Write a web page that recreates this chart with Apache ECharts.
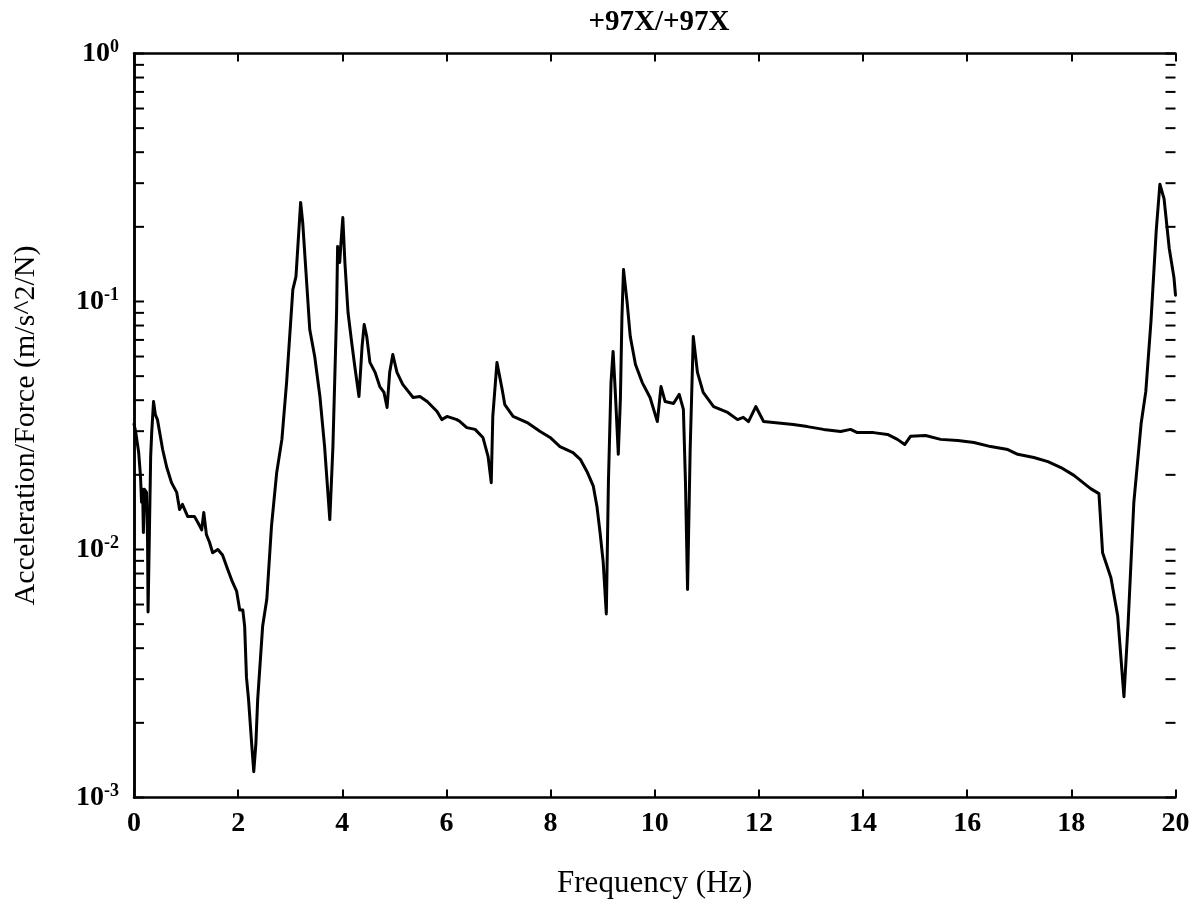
<!DOCTYPE html>
<html>
<head>
<meta charset="utf-8">
<script src="https://cdn.jsdelivr.net/npm/echarts@6/dist/echarts.min.js"></script>
<style>
  html, body { margin: 0; padding: 0; background: #fff; }
  #chart { width: 1198px; height: 904px; }
</style>
</head>
<body>
<div id="chart"></div>
<script>
// frequency (Hz)
const freq = [
  0, 0.03, 0.09, 0.125, 0.145, 0.165, 0.18, 0.2, 0.24, 0.26,
  0.27, 0.3, 0.32, 0.34, 0.375, 0.41, 0.45, 0.55, 0.63, 0.72,
  0.82, 0.875, 0.93, 1.03, 1.16, 1.24, 1.3, 1.34, 1.39, 1.45,
  1.51, 1.61, 1.7, 1.8, 1.89, 1.97, 2.03, 2.09, 2.125, 2.16,
  2.2, 2.26, 2.3, 2.34, 2.375, 2.47, 2.55, 2.64, 2.74, 2.84,
  2.93, 3.05, 3.11, 3.2, 3.24, 3.375, 3.47, 3.57, 3.66, 3.76,
  3.82, 3.89, 3.91, 3.95, 3.97, 4.01, 4.05, 4.11, 4.18, 4.24,
  4.32, 4.38, 4.42, 4.47, 4.53, 4.63, 4.72, 4.8, 4.86, 4.91,
  4.97, 5.05, 5.16, 5.36, 5.49, 5.63, 5.82, 5.91, 6.01, 6.2,
  6.26, 6.39, 6.55, 6.7, 6.8, 6.86, 6.89, 6.97, 7.07, 7.12,
  7.28, 7.55, 7.8, 7.99, 8.18, 8.43, 8.57, 8.7, 8.82, 8.89,
  8.95, 9.01, 9.07, 9.11, 9.16, 9.2, 9.24, 9.3, 9.34, 9.37,
  9.4, 9.47, 9.53, 9.63, 9.76, 9.91, 10.05, 10.12, 10.2, 10.36,
  10.47, 10.55, 10.59, 10.63, 10.68, 10.74, 10.82, 10.93, 11.13, 11.4,
  11.59, 11.7, 11.8, 11.94, 12.09, 12.28, 12.66, 12.93, 13.24, 13.57,
  13.76, 13.89, 14.2, 14.47, 14.66, 14.8, 14.91, 15.2, 15.49, 15.82,
  16.13, 16.45, 16.78, 16.97, 17.28, 17.55, 17.8, 18.05, 18.37, 18.53,
  18.6, 18.76, 18.89, 19.01, 19.09, 19.2, 19.34, 19.43, 19.53, 19.63,
  19.7, 19.78, 19.88, 19.97, 20
]

// acceleration/force (m/s^2/N), same order as freq
const accel = [
  0.032, 0.030, 0.0246, 0.0197, 0.0155, 0.0175, 0.0117, 0.0175, 0.017, 0.011,
  0.0056, 0.0132, 0.0237, 0.0296, 0.0395, 0.035, 0.0334, 0.0253, 0.0214, 0.0186,
  0.017, 0.0145, 0.0152, 0.0136, 0.0136, 0.0127, 0.012, 0.0141, 0.0115, 0.0107,
  0.0097, 0.01, 0.0095, 0.0083, 0.0074, 0.0068, 0.0057, 0.0057, 0.0049, 0.00305,
  0.00248, 0.00164, 0.00127, 0.00164, 0.00248, 0.0049, 0.0063, 0.0124, 0.0204, 0.0278,
  0.0471, 0.1117, 0.126, 0.251, 0.208, 0.0771, 0.060, 0.0414, 0.026, 0.0132,
  0.026, 0.0903, 0.1667, 0.1436, 0.1667, 0.218, 0.1436, 0.0903, 0.0684, 0.0547,
  0.0414, 0.0659, 0.0807, 0.0722, 0.0568, 0.0518, 0.0454, 0.043, 0.0374, 0.0518,
  0.0611, 0.0518, 0.0463, 0.041, 0.0414, 0.0395, 0.036, 0.0334, 0.0344, 0.0334,
  0.0328, 0.031, 0.0305, 0.0283, 0.0237, 0.0186, 0.0344, 0.0568, 0.0442, 0.0384,
  0.0344, 0.0325, 0.0299, 0.0283, 0.026, 0.0246, 0.0231, 0.0206, 0.018, 0.0149,
  0.0117, 0.0089, 0.0055, 0.0186, 0.0471, 0.0629, 0.0442, 0.0242, 0.0403, 0.087,
  0.1346, 0.099, 0.0722, 0.0557, 0.0471, 0.041, 0.0328, 0.0454, 0.0395, 0.0388,
  0.0422, 0.0367, 0.0186, 0.0069, 0.0253, 0.0722, 0.0518, 0.043, 0.0377, 0.0357,
  0.0334, 0.0341, 0.0328, 0.0377, 0.0328, 0.0325, 0.0319, 0.0313, 0.0305, 0.0299,
  0.0305, 0.0296, 0.0296, 0.0291, 0.0278, 0.0265, 0.0286, 0.0288, 0.0278, 0.0275,
  0.027, 0.026, 0.0253, 0.0242, 0.0235, 0.0226, 0.0214, 0.0199, 0.0176, 0.0168,
  0.0097, 0.0077, 0.0054, 0.00255, 0.00503, 0.0155, 0.0322, 0.0434, 0.0838, 0.193,
  0.297, 0.26, 0.1636, 0.125, 0.106
]

// y axis: decade labels and every tick mark (decades + 2..9 minors)
const yDecades = [0.001, 0.01, 0.1, 1]
const yExponents = ['-3', '-2', '-1', '0']
const yTickValues = [
  0.001, 0.002, 0.003, 0.004, 0.005, 0.006, 0.007, 0.008, 0.009,
  0.01, 0.02, 0.03, 0.04, 0.05, 0.06, 0.07, 0.08, 0.09,
  0.1, 0.2, 0.3, 0.4, 0.5, 0.6, 0.7, 0.8, 0.9, 1
]

const xMin = 0
const xMax = 20
const serif = 'Liberation Serif'

const chart = echarts.init(document.getElementById('chart'))

const xAxisBase = {
  type: 'value',
  min: xMin,
  max: xMax,
  interval: 2,
  splitLine: { show: false },
  axisLine: { show: true, lineStyle: { color: '#000', width: 2.5 } },
  axisTick: { show: true, inside: true, length: 8, lineStyle: { color: '#000', width: 2 } }
}

const yAxisBase = {
  type: 'log',
  logBase: 10,
  min: 0.001,
  max: 1,
  splitLine: { show: false },
  axisLine: { show: true, lineStyle: { color: '#000', width: 2.5 } },
  axisTick: { show: false }
}

const option = {
  animation: false,
  backgroundColor: '#fff',
  title: {
    text: '+97X/+97X',
    left: 654,
    textAlign: 'center',
    top: 3,
    textStyle: { fontFamily: serif, fontSize: 29, fontWeight: 'bold', color: '#000' }
  },
  grid: {
    left: 134,
    right: 22.5,
    top: 53.5,
    bottom: 106.5,
    containLabel: false,
    outerBoundsMode: 'none'
  },
  xAxis: [
    {
      ...xAxisBase,
      position: 'bottom',
      name: 'Frequency (Hz)',
      nameLocation: 'middle',
      nameGap: 71,
      nameTextStyle: { fontFamily: serif, fontSize: 31, color: '#000' },
      axisLabel: {
        margin: 12,
        fontFamily: serif,
        fontSize: 28,
        fontWeight: 'bold',
        color: '#000',
        showMinLabel: true,
        showMaxLabel: true
      }
    },
    {
      ...xAxisBase,
      position: 'top',
      axisLabel: { show: false }
    }
  ],
  yAxis: [
    {
      ...yAxisBase,
      position: 'left',
      name: 'Acceleration/Force (m/s^2/N)',
      nameLocation: 'middle',
      nameGap: 93,
      nameTextStyle: { fontFamily: serif, fontSize: 30, color: '#000' },
      axisLabel: {
        margin: 15,
        color: '#000',
        showMinLabel: true,
        showMaxLabel: true,
        formatter: function (value) {
          const i = yDecades.findIndex(d => Math.abs(d - value) / d < 1e-6)
          if (i < 0) return ''
          return '{b|10}{s|' + yExponents[i] + '}'
        },
        rich: {
          b: { fontFamily: serif, fontSize: 28, fontWeight: 'bold', color: '#000', lineHeight: 30 },
          s: { fontFamily: serif, fontSize: 18, fontWeight: 'bold', color: '#000', lineHeight: 18, verticalAlign: 'top' }
        }
      }
    },
    {
      ...yAxisBase,
      position: 'right',
      axisLabel: { show: false }
    }
  ],
  series: [
    {
      // tick marks on the left and right frame, placed by the log scale
      type: 'custom',
      silent: true,
      clip: false,
      xAxisIndex: 0,
      yAxisIndex: 0,
      data: yTickValues.map(v => [xMin, v]),
      renderItem: function (params, api) {
        const v = api.value(1)
        const l = api.coord([xMin, v])
        const r = api.coord([xMax, v])
        const style = { stroke: '#000', lineWidth: 2 }
        return {
          type: 'group',
          children: [
            { type: 'line', shape: { x1: l[0], y1: l[1], x2: l[0] + 10, y2: l[1] }, style },
            { type: 'line', shape: { x1: r[0], y1: r[1], x2: r[0] - 10, y2: r[1] }, style }
          ]
        }
      }
    },
    {
      type: 'line',
      xAxisIndex: 0,
      yAxisIndex: 0,
      showSymbol: false,
      symbol: 'none',
      silent: true,
      lineStyle: { color: '#000', width: 3, join: 'round', cap: 'round' },
      data: freq.map((f, i) => [f, accel[i]])
    }
  ]
}

chart.setOption(option)
</script>
</body>
</html>
